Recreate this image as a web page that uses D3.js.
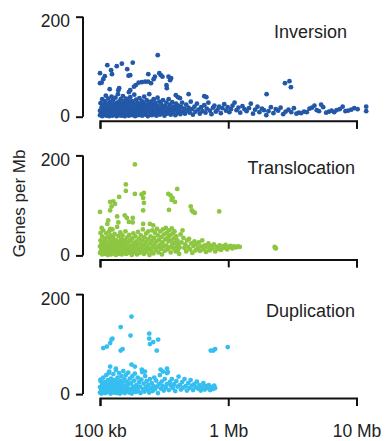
<!DOCTYPE html>
<html>
<head>
<meta charset="utf-8">
<title>Genes per Mb by variant size</title>
<script src="https://cdn.jsdelivr.net/npm/d3@7"></script>
<style>
  body { margin: 0; background: #fff; }
  svg { display: block; }
  text { font-family: "Liberation Sans", Arial, Helvetica, sans-serif; fill: #222; }
</style>
</head>
<body>
<svg id="chart"></svg>
<script>
// panel names
var types = ['Inversion', 'Translocation', 'Duplication'];
var colors = ['#2358a8', '#8dc641', '#36bef0'];

// x = variant size (kb), y = genes per Mb
var inversion = [
  [282,123],[114,103],[135,101],[148,106],[180,108],[100,87],[109,81],[106,75],[103,68],[100,67],
  [122,93],[124,85],[163,95],[167,82],[172,83],[238,85],[290,87],[298,83],[307,80],[268,80],
  [262,75],[342,80],[358,77],[352,73],[200,68],[212,69],[225,70],[237,70],[190,63],[184,60],
  [250,67],[330,63],[332,57],[141,57],[139,53],[119,55],[172,53],[168,49],[390,43],[405,39],
  [420,37],[491,45],[650,41],[675,39],[2767,67],[3000,71],[3080,59],[1991,45],
  [100,3],[100,12],[101,27],[102,6],[103,19],[104,35],[104,1],[105,10],[106,24],[107,15],
  [108,4],[109,31],[110,8],[110,20],[111,42],[112,2],[113,14],[114,26],[115,7],[116,36],
  [117,18],[118,1],[119,11],[120,29],[121,5],[122,22],[123,40],[124,13],[125,2],[126,33],
  [127,9],[128,19],[129,25],[130,4],[131,15],[132,38],[133,8],[134,21],[135,1],[136,28],
  [137,12],[138,45],[139,6],[140,17],[141,30],[142,3],[143,23],[144,10],[145,35],[146,16],
  [147,2],[148,26],[149,8],[150,19],[151,41],[152,5],[153,13],[154,31],[155,22],[156,1],
  [157,9],[158,27],[159,17],[160,36],[161,4],[162,14],[163,24],[164,7],[165,33],[166,11],
  [167,20],[168,2],[169,29],[170,15],[172,39],[173,6],[175,21],[176,12],[178,31],[179,3],
  [181,18],[182,26],[184,9],[185,44],[187,14],[188,1],[190,24],[191,34],[193,7],[194,17],
  [196,28],[198,11],[199,3],[201,21],[203,37],[205,13],[206,5],[208,25],[210,16],[212,31],
  [213,2],[215,20],[217,9],[219,27],[221,40],[223,14],[225,4],[227,23],[229,10],[231,33],
  [233,18],[236,1],[238,26],[240,12],[242,45],[245,7],[247,21],[249,30],[252,15],[254,3],
  [257,24],[259,11],[262,35],[264,19],[267,6],[270,28],[272,14],[275,2],[278,22],[281,38],
  [284,9],[287,17],[290,30],[293,4],[296,13],[300,25],[303,19],[307,8],[310,33],[314,15],
  [318,2],[322,22],[326,11],[330,28],[334,6],[338,18],[343,35],[347,12],[352,24],[356,4],
  [361,16],[366,29],[371,9],[376,20],[381,13],[387,3],[392,26],[398,17],[404,8],[410,22],
  [416,13],[423,5],[430,19],[437,28],[444,10],[452,16],[460,6],
  [470,24],[480,12],[490,18],[500,8],[510,30],[520,15],[530,4],[545,20],[555,10],[570,26],
  [585,14],[600,6],[615,19],[630,11],[650,23],[665,8],[680,16],[700,28],[720,12],[740,5],
  [760,18],[780,22],[800,10],[825,14],[850,20],[875,7],[900,17],[930,25],[960,12],[990,19],
  [1020,9],[1050,15],[1080,22],[1120,28],[1160,13],[1200,18],[1240,8],[1290,21],[1340,15],[1390,11],
  [1450,17],[1500,26],[1560,6],[1620,14],[1690,20],[1750,9],[1830,16],[1900,13],[1980,3],[2060,11],
  [2150,19],[2250,7],[2350,15],[2450,12],[2560,18],[2680,5],[2800,10],[2950,14],[3100,9],[3250,17],
  [3400,6],[3550,8],[3700,7],[3900,10],[4100,9],[4300,16],[4500,18],[4700,22],[4900,13],[5100,11],
  [5300,24],[5500,19],[5800,8],[6100,10],[6400,12],[6700,9],[7000,13],[7400,15],[7800,20],[8200,11],
  [8600,12],[9100,14],[9600,17],[10200,15],[11900,20],[11900,11]
];

var translocation = [
  [187,182],[159,142],[159,129],[187,123],[211,122],[220,125],[217,115],[220,105],[141,117],[120,107],
  [127,108],[123,98],[131,103],[120,90],[100,87],[217,90],[341,123],[355,120],[368,115],[362,111],
  [384,107],[400,133],[345,91],[510,98],[520,90],[533,87],[549,85],[850,88],[136,78],[139,66],
  [156,80],[162,75],[168,67],[180,75],[180,66],[116,70],[114,63],[103,55],[120,53],[245,63],
  [260,60],[217,63],
  [100,5],[100,18],[101,30],[101,45],[102,10],[103,24],[104,2],[104,38],[105,14],[106,50],
  [107,7],[107,28],[108,19],[109,3],[110,34],[110,12],[111,22],[112,44],[113,8],[113,26],
  [114,16],[115,1],[116,36],[116,11],[117,24],[118,48],[119,6],[120,18],[120,31],[121,40],
  [122,2],[123,14],[124,27],[125,9],[125,52],[126,20],[127,35],[128,4],[129,15],[130,43],
  [131,25],[132,10],[133,1],[134,30],[135,18],[136,57],[137,7],[138,22],[139,39],[140,12],
  [141,3],[142,28],[143,17],[144,46],[145,8],[146,33],[147,21],[148,2],[149,14],[150,40],
  [152,26],[153,6],[154,18],[156,31],[157,11],[158,48],[160,3],[161,22],[163,36],[164,13],
  [166,27],[167,5],[169,41],[170,17],[172,30],[173,9],[175,20],[177,1],[178,34],[180,14],
  [182,44],[183,25],[185,6],[187,18],[189,38],[190,10],[192,28],[194,2],[196,21],[198,47],
  [200,13],[202,33],[204,5],[206,24],[208,40],[210,16],[212,8],[214,30],[216,52],[218,20],
  [220,3],[222,36],[225,12],[227,26],[229,44],[231,7],[234,18],[236,32],[238,48],[241,14],
  [243,1],[246,24],[248,38],[251,9],[253,29],[256,50],[258,17],[261,4],[264,35],[266,22],
  [269,45],[272,11],[275,28],[278,53],[280,16],[283,40],[286,6],[289,31],[292,21],[295,48],
  [298,13],[301,37],[304,2],[307,26],[310,52],[313,18],[316,42],[319,9],[322,32],[326,55],
  [329,20],[332,45],[335,12],[339,36],[342,28],[345,50],[349,16],[352,40],[356,6],[359,30],
  [363,54],[366,22],[370,44],[374,14],[378,34],[381,48],[385,25],[389,8],[393,38],[397,18],
  [401,30],[405,11],[410,24],[414,3],[418,16],
  [425,42],[432,26],[440,50],[447,35],[455,15],[462,22],[470,8],[478,30],[487,17],[495,33],
  [505,12],[515,24],[525,5],[535,19],[545,28],[556,10],[567,22],[578,14],[590,26],[602,9],
  [614,18],[627,30],[640,12],[655,20],[670,7],[685,16],[700,24],[717,10],[735,19],[753,14],
  [772,22],[792,8],[812,17],[833,13],[855,20],[878,11],[902,18],[927,15],[953,21],[980,12],
  [1010,17],[1040,19],[1075,14],[1110,18],[1150,16],[1190,18],[1230,17],[2300,17],[2350,14],[2330,15]
];

var duplication = [
  [176,155],[145,134],[173,117],[242,121],[242,111],[260,104],[245,100],[284,109],[277,87],[106,92],
  [113,95],[120,102],[123,109],[125,111],[145,87],[150,90],[730,87],[790,90],[765,87],[990,94],
  [120,55],[117,42],[133,51],[176,59],[187,55],[212,49],[224,45],[297,49],[310,45],[333,51],
  [333,42],[101,29],
  [100,3],[100,14],[101,26],[102,8],[103,1],[104,20],[105,11],[106,33],[107,5],[108,16],
  [109,24],[110,2],[111,12],[112,38],[113,7],[114,19],[115,28],[116,4],[117,14],[118,45],
  [119,9],[120,22],[121,1],[122,31],[123,13],[124,6],[125,25],[126,17],[127,40],[128,3],
  [129,10],[130,28],[131,19],[132,7],[133,48],[134,15],[135,2],[136,24],[137,33],[138,11],
  [139,5],[140,20],[141,42],[142,14],[143,1],[144,27],[145,8],[146,18],[147,36],[148,4],
  [149,13],[150,23],[152,46],[153,9],[155,30],[156,2],[158,17],[159,38],[161,6],[162,25],
  [164,12],[166,43],[167,20],[169,3],[171,31],[173,10],[175,22],[177,1],[179,36],[181,15],
  [183,8],[185,27],[187,41],[190,4],[192,18],[194,12],[197,33],[199,6],[202,24],[205,15],
  [207,2],[210,29],[213,44],[216,10],[219,21],[222,5],[225,36],[228,14],[231,26],[235,8],
  [238,18],[242,3],[245,30],[249,12],[253,22],[257,6],[261,16],[265,33],[269,10],[274,27],
  [278,15],[283,2],[288,20],[293,38],[298,11],[303,25],[308,16],[314,7],[320,30],[326,13],
  [332,20],[338,44],[344,8],[350,24],[356,17],
  [363,30],[370,12],[378,20],[386,6],[394,26],[402,15],[410,35],[419,18],[428,9],[437,24],
  [446,13],[456,30],[466,16],[476,7],[487,22],[498,12],[509,28],[520,17],[532,8],[544,20],
  [556,14],[569,25],[582,11],[596,18],[610,7],[625,14],[640,22],[655,9],[671,16],[688,12],
  [705,18],[722,8],[740,14],[758,10],[776,17],[790,12]
];

var xTicks = [100, 1000, 10000];
var xTickLabels = ['100 kb', '1 Mb', '10 Mb'];
var yTicks = [0, 200];
var yLabel = 'Genes per Mb';

var series = [inversion, translocation, duplication];

var width = 386, height = 441;
var panelTop = 16.7, panelStep = 138.7, panelH = 100;
// title placement per panel (end x, baseline offset from panel top)
var titlePos = [[347, 21], [355, 19], [355, 22.6]];

var svg = d3.select('#chart')
  .attr('width', width)
  .attr('height', height);

var x = d3.scaleLog()
  .domain([100, 10000])
  .range([100, 356.5]);

types.forEach(function(name, i) {
  var top = panelTop + i * panelStep;
  var y = d3.scaleLinear()
    .domain([0, 200])
    .range([top + panelH, top]);

  var g = svg.append('g');

  // y axis
  var yAxis = d3.axisLeft(y)
    .tickValues(yTicks)
    .tickSize(7)
    .tickSizeOuter(0)
    .tickPadding(6);
  var ya = g.append('g')
    .attr('transform', 'translate(83,0)')
    .call(yAxis);
  ya.selectAll('path, line').attr('stroke', '#111').attr('stroke-width', 2);
  ya.selectAll('text')
    .style('font-size', '17.5px')
    .attr('dy', d => d === 200 ? '0.58em' : '0.3em');
  ya.select('.domain').attr('d', 'M0,' + y(200) + 'V' + y(0));

  // x axis
  var xAxis = d3.axisBottom(x)
    .tickValues(xTicks)
    .tickSize(8)
    .tickSizeOuter(8)
    .tickPadding(18)
    .tickFormat((d, k) => i === types.length - 1 ? xTickLabels[k] : '');
  var xa = g.append('g')
    .attr('transform', 'translate(0,' + (y(0) + 4) + ')')
    .call(xAxis);
  xa.selectAll('path, line').attr('stroke', '#111').attr('stroke-width', 2);
  xa.selectAll('text').style('font-size', '17.5px');

  // points
  g.append('g')
    .selectAll('circle')
    .data(series[i])
    .enter()
    .append('circle')
    .attr('cx', d => x(d[0]))
    .attr('cy', d => y(d[1]))
    .attr('r', 2.4)
    .style('fill', colors[i]);

  // panel title
  g.append('text')
    .attr('x', titlePos[i][0])
    .attr('y', top + titlePos[i][1])
    .attr('text-anchor', 'end')
    .style('font-size', '18px')
    .text(name);
});

// shared y label
svg.append('text')
  .attr('transform', 'translate(25,' + (panelTop + panelStep + panelH / 2 - 2) + ') rotate(-90)')
  .attr('text-anchor', 'middle')
  .style('font-size', '17px')
  .text(yLabel);
</script>
</body>
</html>
